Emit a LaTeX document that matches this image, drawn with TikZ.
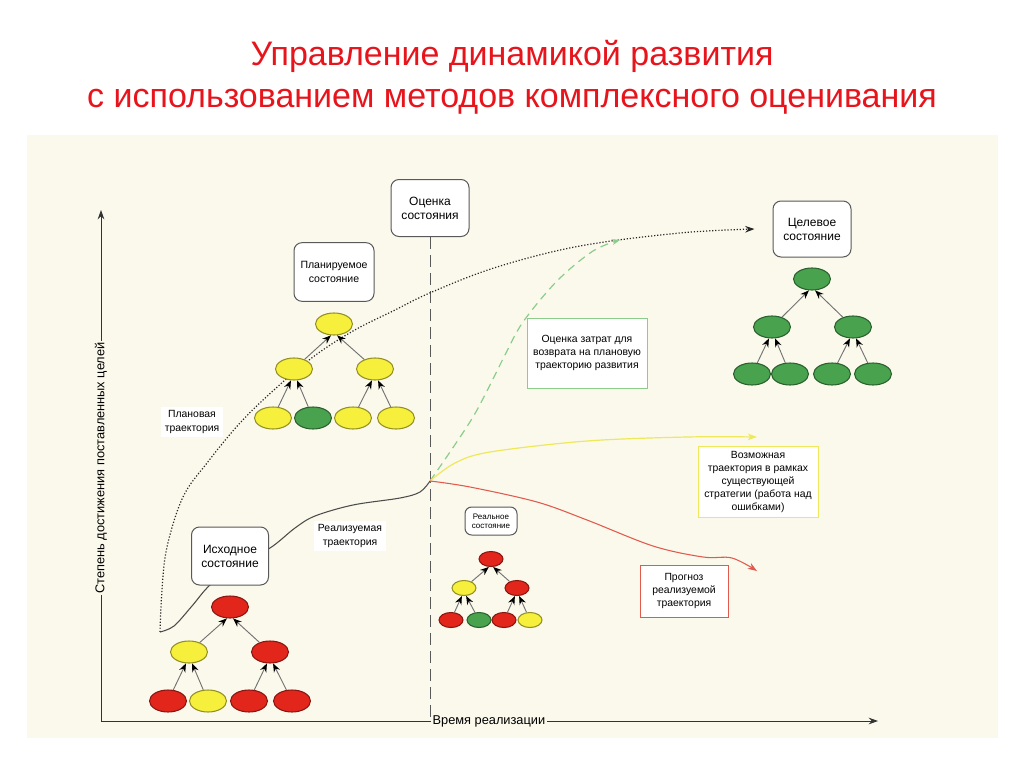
\documentclass[tikz,border=0pt]{standalone}
\usepackage{fontspec}
\setmainfont{Liberation Sans}
\usetikzlibrary{arrows.meta,shapes.geometric,calc}
\definecolor{paper}{HTML}{FBF9EC}
\definecolor{titlered}{HTML}{E8141C}
\definecolor{leafred}{HTML}{E3261C}
\definecolor{leafyel}{HTML}{F6F03C}
\definecolor{leafgrn}{HTML}{48A24E}
\definecolor{costgrn}{HTML}{8CCD8C}
\definecolor{posyel}{HTML}{EEE85A}
\definecolor{fcred}{HTML}{E05A4E}

\begin{document}
\begin{tikzpicture}[x=0.75pt, y=-0.75pt, >={Stealth[length=7pt, width=5pt]},
  every node/.style={font=\fontsize{7.8}{9.8}\selectfont},
  title/.style={text=titlered, inner sep=0pt, font=\fontsize{25.5}{30}\selectfont},
  axlbl/.style={fill=paper, inner sep=1pt, font=\fontsize{9.6}{11}\selectfont},
  state/.style={draw=black!65, fill=white, rounded corners=6pt, line width=0.75pt, align=center, inner sep=2pt, font=\fontsize{9}{10.5}\selectfont},
  note/.style={draw, fill=white, line width=0.6pt, align=center, inner sep=2pt},
  lbl/.style={fill=white, align=center, inner sep=3pt},
  leaf/.style={ellipse, line width=0.8pt, minimum width=27.75pt, minimum height=16.5pt, inner sep=0pt},
  tedge/.style={draw=black!55, line width=0.7pt, -{Stealth[length=6.5pt, width=5pt, color=black]}},
  axis/.style={draw=black!80, line width=0.75pt, ->}]
\fill[white] (0,0) rectangle (1024,767);
\fill[paper] (27,135) rectangle (998,738);
\useasboundingbox (0,0) rectangle (1024,767);

\node[title, anchor=base] (title1) at (512,66) {Управление динамикой развития};
\node[title, anchor=base] (title2) at (512,108) {с использованием методов комплексного оценивания};

\coordinate (origin) at (101,721);
\coordinate (ytip) at (101,210);
\coordinate (xtip) at (878,721);
\draw[axis] (origin) -- (ytip);
\draw[axis] (origin) -- (xtip);

\node[state, minimum width=58.5pt, minimum height=42.75pt] (assess) at (430,208) {Оценка\\состояния};
\draw[black!65, line width=0.75pt, dash pattern=on 9pt off 4.5pt] (assess.south) -- (assess.south |- origin);
\node[axlbl, rotate=90] (ylabel) at (101,468) {Степень достижения поставленных целей};
\node[axlbl, anchor=west] (xlabel) at (431,721) {Время реализации};

\node[state, minimum width=58.5pt, minimum height=42pt] (goal) at (812,229) {Целевое\\состояние};
\coordinate (start) at (160,632);
\coordinate (split) at (430,481);
\coordinate (planend) at ($(goal.west)+(-18,0)$);
\coordinate (greenend) at (620,240);
\coordinate (yelend) at (757,437);
\coordinate (redend) at (757,571);

\draw[black!70, line width=0.8pt] plot[smooth, tension=0.55] coordinates {(start) (174,626) (192,606) (210,585) (240,562) (270,548) (295,528) (315,516) (353,505) (400,498) (420,492) (split)};
\draw[black!85, line width=0.9pt, dash pattern=on 0.9pt off 1.4pt, ->] plot[smooth, tension=0.6] coordinates {(start) (162,590) (167,547) (183,497) (207,463) (240,423) (275,389) (313,357) (353,331) (393,311) (432,292) (497,267) (580,246) (680,233) (planend)};
\draw[costgrn, line width=0.9pt, dash pattern=on 6pt off 4pt, -{Stealth[length=6pt, width=4.5pt]}] plot[smooth, tension=0.55] coordinates {(split) (450,452) (473,417) (490,385) (505,355) (523,322) (557,281) (593,251) (greenend)};
\draw[posyel, line width=0.9pt, ->] plot[smooth, tension=0.55] coordinates {(split) (455,463) (490,452) (587,441) (687,437) (yelend)};
\draw[fcred, line width=0.8pt, ->] plot[smooth, tension=0.55] coordinates {(split) (470,487) (537,502) (587,520) (653,546) (703,557) (732,558) (redend)};

\foreach \n/\x/\y/\c in {1/230/607/leafred, 2/189/652/leafyel, 3/270/652/leafred, 4/168/701/leafred,
    5/208/701/leafyel, 6/249/701/leafred, 7/292/701/leafred}
  \node[leaf, fill=\c, draw=\c!60!black] (init\n) at (\x,\y) {};
\foreach \n/\x/\y/\c in {1/334/324/leafyel, 2/294/369/leafyel, 3/375/369/leafyel, 4/273/418/leafyel,
    5/313/418/leafgrn, 6/353/418/leafyel, 7/396/418/leafyel}
  \node[leaf, fill=\c, draw=\c!60!black] (plan\n) at (\x,\y) {};
\foreach \n/\x/\y in {1/812/279, 2/772/327, 3/853/327, 4/752/374, 5/790/374, 6/832/374, 7/873/374}
  \node[leaf, fill=leafgrn, draw=leafgrn!60!black] (goal\n) at (\x,\y) {};
\foreach \n/\x/\y/\c in {1/491/559/leafred, 2/464/588/leafyel, 3/517/588/leafred, 4/451/620/leafred,
    5/479/620/leafgrn, 6/504/620/leafred, 7/530/620/leafyel}
  \node[leaf, fill=\c, draw=\c!60!black, minimum width=18pt, minimum height=11.25pt] (real\n) at (\x,\y) {};
\foreach \t in {init,plan,goal,real}
  \foreach \ch/\pa/\a in {2/1/255, 3/1/285, 4/2/255, 5/2/285, 6/3/255, 7/3/285}
    \draw[tedge] (\t\ch) -- (\t\pa.\a);

\node[state, font=\fontsize{7.9}{10}\selectfont, minimum width=60pt, minimum height=44pt] (planned) at (334,272) {Планируемое\\состояние};
\node[state, minimum width=57.75pt, minimum height=43.5pt] (initial) at (230,556) {Исходное\\состояние};
\node[state, font=\fontsize{6}{7}\selectfont, minimum width=39pt, minimum height=21pt, rounded corners=5pt] (real) at (491,521) {Реальное\\состояние};

\node[note, draw=costgrn, minimum width=90pt, minimum height=52.5pt] (cost) at (587,353) {Оценка затрат для\\возврата на плановую\\траекторию развития};
\node[note, draw=posyel, minimum width=90pt, minimum height=53pt] (possible) at (758,482) {Возможная\\траектория в рамках\\существующей\\стратегии (работа над\\ошибками)};
\node[note, draw=fcred, minimum width=66pt, minimum height=39pt] (forecast) at (684,591) {Прогноз\\реализуемой\\траектория};
\node[lbl] (planlbl) at (192,422) {Плановая\\траектория};
\node[lbl] (reallbl) at (350,536) {Реализуемая\\траектория};
\end{tikzpicture}
\end{document}
